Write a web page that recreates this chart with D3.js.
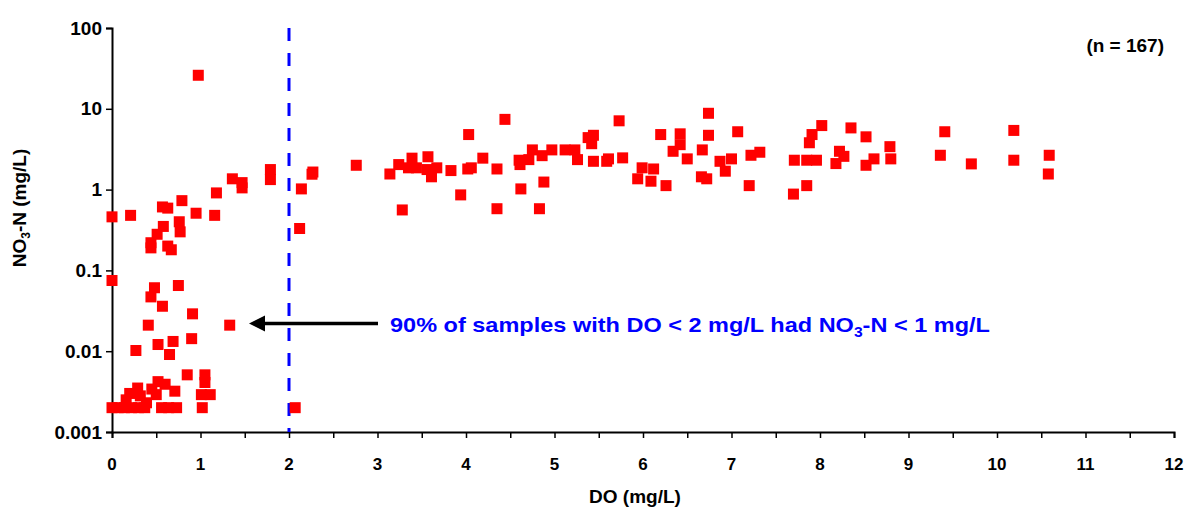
<!DOCTYPE html>
<html>
<head>
  <meta charset="utf-8">
  <title>NO3-N vs DO</title>
  <script src="https://d3js.org/d3.v7.min.js"></script>
  <style>
    body { margin: 0; background: #fff; }
    svg { display: block; font-family: "Liberation Sans", Arial, sans-serif; font-weight: bold; }
  </style>
</head>
<body>
  <div id="chart"></div>
  <script>
    // ---- data: [DO mg/L, NO3-N mg/L] ----
    // samples with DO < 2 mg/L
    const lowDoSamples = [
      [0.00, 0.46], [0.21, 0.48], [1.18, 0.91], [0.57, 0.61], [0.63, 0.59],
      [0.79, 0.73], [0.95, 0.51], [1.16, 0.48], [0.58, 0.35], [0.76, 0.40],
      [0.77, 0.30], [0.51, 0.28], [0.44, 0.22], [0.44, 0.19], [0.63, 0.20],
      [0.67, 0.18], [0.975, 26.0], [1.36, 1.36], [1.47, 1.22], [1.47, 1.05],
      [1.79, 1.77], [1.79, 1.33],
      [0.00, 0.075], [0.48, 0.061], [0.75, 0.065], [0.44, 0.047], [0.57, 0.036],
      [0.91, 0.029], [0.41, 0.021], [1.33, 0.021], [0.90, 0.0143], [0.52, 0.0121],
      [0.69, 0.0132], [0.65, 0.0091], [0.27, 0.0102],
      [0.85, 0.0051], [1.05, 0.0051], [1.05, 0.0041], [0.52, 0.0042], [0.60, 0.0039],
      [0.29, 0.0035], [0.45, 0.0034], [0.71, 0.0032], [0.50, 0.0029], [0.20, 0.0030],
      [0.32, 0.0028], [0.16, 0.0025], [0.39, 0.0023], [1.01, 0.0029], [1.11, 0.0029],
      [0.00, 0.002], [0.07, 0.002], [0.14, 0.002], [0.22, 0.002], [0.30, 0.002],
      [0.37, 0.002], [0.56, 0.002], [0.64, 0.002], [0.73, 0.002], [1.02, 0.002]
    ];
    // samples with DO >= 2 mg/L
    const highDoSamples = [
      [2.07, 0.002], [2.12, 0.33], [2.14, 1.02], [2.26, 1.55], [2.27, 1.65],
      [2.76, 2.0], [3.14, 1.56], [3.24, 2.04], [3.28, 0.56], [3.39, 2.45],
      [3.35, 1.86], [3.44, 1.86], [3.57, 2.55], [3.56, 1.77], [3.67, 1.86],
      [3.61, 1.44], [3.83, 1.72], [3.94, 0.86], [4.03, 4.8], [4.02, 1.8],
      [4.06, 1.86], [4.19, 2.45], [4.35, 1.8], [4.35, 0.58], [4.44, 7.4],
      [4.60, 2.31], [4.61, 2.04], [4.62, 1.02], [4.71, 2.35], [4.75, 3.1],
      [4.86, 2.63], [4.88, 1.24], [4.83, 0.58], [4.97, 3.1], [5.12, 3.1],
      [5.23, 3.1], [5.26, 2.35], [5.38, 4.4], [5.44, 4.7], [5.42, 3.7],
      [5.44, 2.24], [5.59, 2.24], [5.61, 2.4], [5.73, 7.1], [5.77, 2.47],
      [5.94, 1.36], [5.99, 1.86], [6.12, 1.8], [6.09, 1.27], [6.20, 4.8],
      [6.26, 1.12], [6.34, 2.98], [6.42, 3.6], [6.42, 4.9], [6.50, 2.4],
      [6.67, 3.1], [6.74, 8.8], [6.74, 4.7], [6.66, 1.44], [6.72, 1.36],
      [6.87, 2.24], [7.00, 2.4], [6.93, 1.69], [7.07, 5.2], [7.22, 2.66],
      [7.32, 2.9], [7.20, 1.12], [7.71, 2.31], [7.70, 0.88], [7.85, 2.31],
      [7.96, 2.31], [7.85, 1.12], [7.88, 3.8], [7.91, 4.8], [8.02, 6.2],
      [8.22, 2.98], [8.27, 2.58], [8.18, 2.1], [8.35, 5.8], [8.52, 4.5],
      [8.61, 2.4], [8.52, 2.0], [8.79, 3.4], [8.80, 2.4], [9.41, 5.2],
      [9.36, 2.66], [9.71, 2.08], [10.19, 5.4], [10.19, 2.31], [10.59, 2.66],
      [10.58, 1.56]
    ];
    const xTicks = [0, 1, 2, 3, 4, 5, 6, 7, 8, 9, 10, 11, 12];
    const yTicks = [0.001, 0.01, 0.1, 1, 10, 100];
    const yTickLabels = ["0.001", "0.01", "0.1", "1", "10", "100"];
    const doThreshold = 2;

    const width = 1189, height = 511;
    const margin = { top: 28, right: 15, bottom: 79, left: 112 };

    const svg = d3.select("#chart").append("svg")
      .attr("width", width)
      .attr("height", height);

    const x = d3.scaleLinear().domain([0, 12]).range([margin.left, 1174]);
    const y = d3.scaleLog().domain([0.001, 100]).range([height - margin.bottom, margin.top]);

    // x axis, major + half-unit minor ticks
    const xAxisG = svg.append("g")
      .attr("transform", `translate(0,${height - margin.bottom})`);
    xAxisG.call(d3.axisBottom(x).tickValues(d3.range(0, 12.01, 0.5)).tickSize(6).tickFormat(""));
    xAxisG.call(g => g.selectAll(".tick text").remove());
    xTicks.forEach(t => {
      xAxisG.append("text")
        .attr("x", x(t)).attr("y", 38)
        .attr("text-anchor", "middle")
        .attr("font-size", 17)
        .attr("fill", "#000")
        .text(t);
    });

    // y axis: log decades with 2..9 minor ticks
    const minorY = [];
    for (let d = 0.001; d < 100; d *= 10) {
      for (let k = 2; k <= 9; k++) minorY.push(+(d * k).toPrecision(3));
    }
    const yAxisG = svg.append("g").attr("transform", `translate(${margin.left},0)`);
    yAxisG.call(d3.axisLeft(y).tickValues(minorY).tickSize(4).tickFormat(""));
    yAxisG.call(d3.axisLeft(y).tickValues(yTicks).tickSize(6).tickPadding(4)
      .tickFormat((d, i) => yTickLabels[i]));
    svg.selectAll(".domain").attr("stroke", "#000").attr("stroke-width", 2);
    svg.selectAll(".tick line").attr("stroke", "#000").attr("stroke-width", 1.5);
    yAxisG.selectAll(".tick text")
      .attr("font-size", 19).attr("font-weight", "bold").attr("fill", "#000")
      .attr("font-family", "Liberation Sans, Arial, sans-serif");

    // threshold line
    svg.append("line")
      .attr("x1", x(doThreshold)).attr("x2", x(doThreshold))
      .attr("y1", y(100)).attr("y2", y(0.001))
      .attr("stroke", "#0000ff").attr("stroke-width", 3)
      .attr("stroke-dasharray", "13,12");

    // samples
    const allSamples = lowDoSamples.concat(highDoSamples);
    const sq = 11;
    svg.append("g").selectAll("rect")
      .data(allSamples)
      .join("rect")
      .attr("x", d => x(d[0]) - sq / 2)
      .attr("y", d => y(d[1]) - sq / 2)
      .attr("width", sq).attr("height", sq)
      .attr("fill", "#ff0000");

    // arrow + note
    const arrowY = y(0.022);
    svg.append("line")
      .attr("x1", 378).attr("x2", 262)
      .attr("y1", arrowY).attr("y2", arrowY)
      .attr("stroke", "#000").attr("stroke-width", 3.5);
    svg.append("path")
      .attr("d", `M249,${arrowY} L265,${arrowY - 8} L265,${arrowY + 8} Z`)
      .attr("fill", "#000");

    const note = svg.append("text")
      .attr("transform", `translate(390,${arrowY + 8}) scale(1.12,1)`)
      .attr("font-size", 21).attr("fill", "#0000ff");
    note.append("tspan").text("90% of samples with DO < 2 mg/L had NO");
    note.append("tspan").attr("font-size", 14).attr("dy", 5).text("3");
    note.append("tspan").attr("dy", -5).text("-N < 1 mg/L");

    // sample count
    svg.append("text")
      .attr("x", 1164).attr("y", 52)
      .attr("text-anchor", "end")
      .attr("font-size", 19)
      .text("(n = 167)");

    // axis titles
    svg.append("text")
      .attr("x", 635).attr("y", 503)
      .attr("text-anchor", "middle")
      .attr("font-size", 19)
      .text("DO (mg/L)");

    const yTitle = svg.append("text")
      .attr("transform", "translate(26,208) rotate(-90)")
      .attr("text-anchor", "middle")
      .attr("font-size", 19);
    yTitle.append("tspan").text("NO");
    yTitle.append("tspan").attr("font-size", 12).attr("dy", 4).text("3");
    yTitle.append("tspan").attr("dy", -4).text("-N (mg/L)");
  </script>
</body>
</html>
